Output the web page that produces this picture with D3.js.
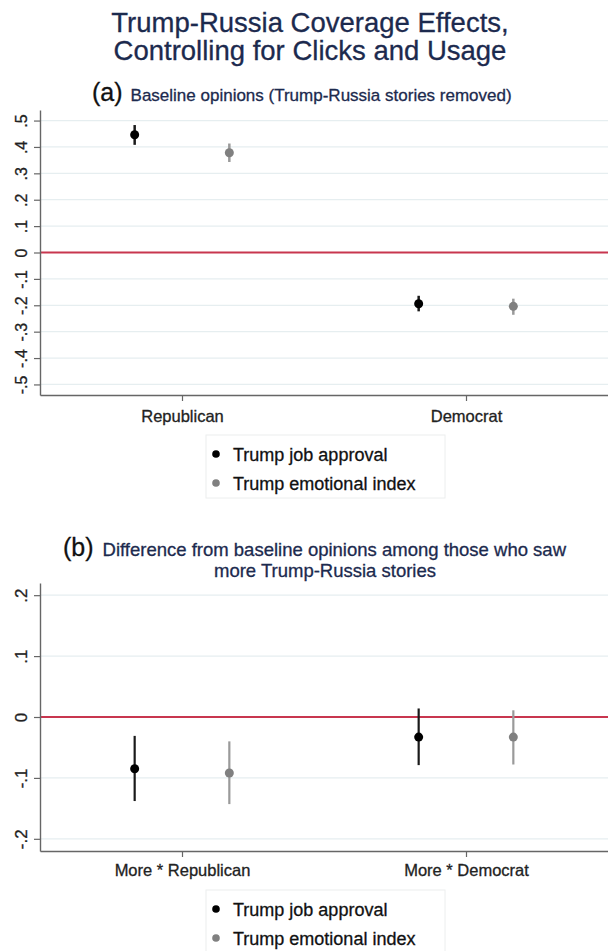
<!DOCTYPE html>
<html>
<head>
<meta charset="utf-8">
<script src="https://cdn.jsdelivr.net/npm/d3@7"></script>
<style>
  body { margin: 0; background: white; }
  svg { display: block; font-family: "Liberation Sans", Arial, Helvetica, sans-serif; }
  text { stroke-width: 0.3px; }
</style>
</head>
<body>
<svg id="chart"></svg>
<script>
//categories and series
const baseCats = ["Republican", "Democrat"];
const diffCats = ["More * Republican", "More * Democrat"];
const seriesNames = ["Trump job approval", "Trump emotional index"];

//panel (a): baseline opinions, estimate + 95% CI
const baseJobEst = [0.446, -0.194];
const baseJobLo = [0.408, -0.223];
const baseJobHi = [0.483, -0.164];
const baseEmoEst = [0.378, -0.204];
const baseEmoLo = [0.343, -0.236];
const baseEmoHi = [0.413, -0.175];

//panel (b): difference among those who saw more stories
const diffJobEst = [-0.085, -0.033];
const diffJobLo = [-0.138, -0.079];
const diffJobHi = [-0.031, 0.014];
const diffEmoEst = [-0.092, -0.033];
const diffEmoLo = [-0.143, -0.078];
const diffEmoHi = [-0.040, 0.011];

//axis ticks
const baseTicks = [-0.5, -0.4, -0.3, -0.2, -0.1, 0, 0.1, 0.2, 0.3, 0.4, 0.5];
const diffTicks = [-0.2, -0.1, 0, 0.1, 0.2];

const width = 608;
const height = 951;
const navy = "#1c2a4e";
const seriesColors = ["#000000", "#808080"];
const ciColors = ["#1a1a1a", "#9a9a9a"];

const svg = d3.select("#chart")
    .attr("width", width)
    .attr("height", height);

//stata-style tick labels: .5, -.5, 0 (plain hyphen)
const fmt = d => d === 0 ? "0" : (d < 0 ? "-" : "") + "." + Math.round(Math.abs(d) * 10);

//text with a faint outline (heavier look like the original)
function label(sel, color) {
    return sel.style("fill", color).style("stroke", color);
}

//main title
label(svg.append("text")
    .attr("x", 310).attr("y", 32)
    .attr("text-anchor", "middle")
    .style("font-size", "27.5px"), navy)
    .text("Trump-Russia Coverage Effects,");
label(svg.append("text")
    .attr("x", 310).attr("y", 60)
    .attr("text-anchor", "middle")
    .style("font-size", "27.5px"), navy)
    .text("Controlling for Clicks and Usage");

function drawPanel(p) {
    const g = svg.append("g");
    const left = 40, right = width;

    const x = d3.scalePoint()
        .domain(p.cats)
        .range([left, right])
        .padding(0.5);
    const off = d3.scalePoint()
        .domain(seriesNames)
        .range([-x.step() / 6, x.step() / 6]);

    const y = d3.scaleLinear()
        .domain(p.domain)
        .range([p.bottom, p.top]);

    //grid lines
    g.append("g")
        .selectAll("line")
        .data(p.ticks.filter(t => t !== 0))
        .join("line")
        .attr("x1", left).attr("x2", right)
        .attr("y1", d => y(d)).attr("y2", d => y(d))
        .attr("stroke", "#e6eef0").attr("stroke-width", 1.2);

    //zero reference line
    g.append("line")
        .attr("x1", left).attr("x2", right)
        .attr("y1", y(0)).attr("y2", y(0))
        .attr("stroke", "#c8364f").attr("stroke-width", 2);

    //y axis
    const yAxis = g.append("g")
        .attr("transform", `translate(${left},0)`)
        .call(d3.axisLeft(y).tickValues(p.ticks).tickSize(6).tickSizeOuter(0).tickFormat(fmt));
    yAxis.select(".domain").attr("stroke", "#666").attr("stroke-width", 1.4);
    yAxis.selectAll(".tick line").attr("stroke", "#666").attr("stroke-width", 1.2);
    label(yAxis.selectAll(".tick text")
        .attr("x", 0).attr("y", 0).attr("dy", null)
        .attr("transform", "translate(-13,0) rotate(-90)")
        .attr("text-anchor", "middle")
        .style("font-size", p.tickFont + "px")
        .style("font-family", "inherit"), "#222");

    //x axis
    const xAxis = g.append("g")
        .attr("transform", `translate(0,${p.bottom})`)
        .call(d3.axisBottom(x).tickSize(6).tickSizeOuter(0));
    xAxis.select(".domain").attr("stroke", "#666").attr("stroke-width", 1.4);
    xAxis.selectAll(".tick line").attr("stroke", "#666").attr("stroke-width", 1.2);
    label(xAxis.selectAll(".tick text")
        .attr("y", p.catLabelDy).attr("dy", null)
        .style("font-size", p.catFont + "px")
        .style("font-family", "inherit"), "#222");

    //estimates with CIs
    const series = [
        { name: seriesNames[0], est: p.jobEst, lo: p.jobLo, hi: p.jobHi },
        { name: seriesNames[1], est: p.emoEst, lo: p.emoLo, hi: p.emoHi }
    ];
    series.forEach((s, si) => {
        const pts = p.cats.map((c, i) => ({ cat: c, est: s.est[i], lo: s.lo[i], hi: s.hi[i] }));
        g.append("g").selectAll("line")
            .data(pts)
            .join("line")
            .attr("x1", d => x(d.cat) + off(s.name))
            .attr("x2", d => x(d.cat) + off(s.name))
            .attr("y1", d => y(d.lo))
            .attr("y2", d => y(d.hi))
            .attr("stroke", ciColors[si])
            .attr("stroke-width", p.ciWidth);
        g.append("g").selectAll("circle")
            .data(pts)
            .join("circle")
            .attr("cx", d => x(d.cat) + off(s.name))
            .attr("cy", d => y(d.est))
            .attr("r", 4.5)
            .attr("fill", seriesColors[si]);
    });

    //legend
    const lg = g.append("g");
    lg.append("rect")
        .attr("x", 206).attr("y", p.legendTop)
        .attr("width", 239).attr("height", 63)
        .attr("fill", "white")
        .attr("stroke", "#eceeee").attr("stroke-width", 1);
    seriesNames.forEach((name, i) => {
        const cy = p.legendTop + 19 + i * 29;
        lg.append("circle")
            .attr("cx", 216).attr("cy", cy).attr("r", 3.8)
            .attr("fill", seriesColors[i]);
        label(lg.append("text")
            .attr("x", 233).attr("y", cy + 6.5)
            .style("font-size", "18px"), "#111")
            .text(name);
    });
}

//panel (a)
const subA = svg.append("text").attr("x", 92).attr("y", 101);
label(subA.append("tspan").style("font-size", "25px"), "#111").text("(a)");
label(subA.append("tspan").attr("dx", 8).style("font-size", "17px"), navy)
    .text("Baseline opinions (Trump-Russia stories removed)");

drawPanel({
    cats: baseCats, ticks: baseTicks, domain: [-0.54, 0.54],
    top: 110, bottom: 395, tickFont: 16, catFont: 16.5, catLabelDy: 27, ciWidth: 2.5,
    jobEst: baseJobEst, jobLo: baseJobLo, jobHi: baseJobHi,
    emoEst: baseEmoEst, emoLo: baseEmoLo, emoHi: baseEmoHi,
    legendTop: 435
});

//panel (b)
const subB = svg.append("text").attr("x", 63).attr("y", 556);
label(subB.append("tspan").style("font-size", "25px"), "#111").text("(b)");
label(subB.append("tspan").attr("dx", 9).style("font-size", "18.5px"), navy)
    .text("Difference from baseline opinions among those who saw");
label(svg.append("text").attr("x", 325).attr("y", 577)
    .attr("text-anchor", "middle")
    .style("font-size", "18.5px"), navy)
    .text("more Trump-Russia stories");

drawPanel({
    cats: diffCats, ticks: diffTicks, domain: [-0.22, 0.22],
    top: 583, bottom: 851, tickFont: 17, catFont: 16.5, catLabelDy: 25, ciWidth: 2.2,
    jobEst: diffJobEst, jobLo: diffJobLo, jobHi: diffJobHi,
    emoEst: diffEmoEst, emoLo: diffEmoLo, emoHi: diffEmoHi,
    legendTop: 890
});
</script>
</body>
</html>
